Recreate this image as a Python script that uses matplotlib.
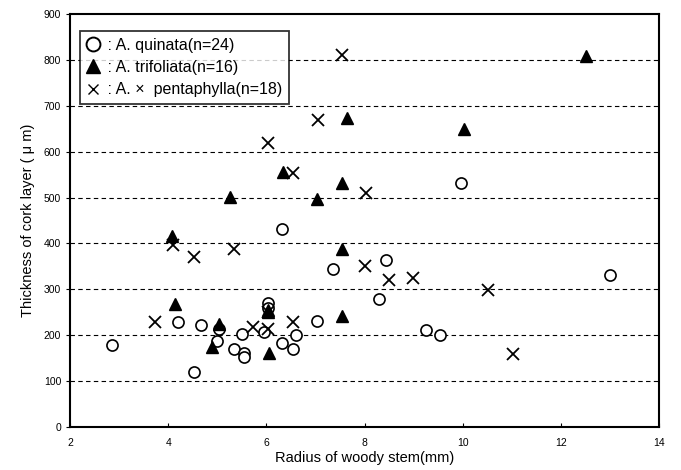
import matplotlib
matplotlib.use("Agg")
from matplotlib import pyplot as plt
from matplotlib.lines import Line2D

# A. quinata (circles)
quinata_x = [2.86, 4.19, 4.53, 4.67, 4.99, 5.04, 5.34, 5.50, 5.54, 5.54, 5.94, 6.04,
             6.04, 6.31, 6.32, 6.55, 6.60, 7.02, 7.36, 8.30, 8.44, 9.25, 9.54, 9.96, 13.0]
quinata_y = [178, 229, 120, 222, 188, 214, 170, 203, 162, 152, 206, 271,
             260, 182, 431, 171, 200, 232, 344, 280, 364, 211, 200, 531, 331]

# A. trifoliata (filled triangles)
trifoliata_x = [4.07, 4.14, 4.89, 5.04, 5.26, 6.04, 6.04, 6.05, 6.34, 7.02, 7.53,
                7.53, 7.53, 7.63, 10.02, 12.51]
trifoliata_y = [416, 268, 175, 224, 501, 255, 250, 162, 556, 498, 532,
                389, 242, 673, 649, 808]

# A. x pentaphylla (crosses)
penta_x = [3.73, 4.10, 4.53, 5.33, 5.73, 6.04, 6.04, 6.55, 7.53, 7.04, 8.03,
           8.01, 8.50, 8.99, 10.52, 11.03, 6.03, 6.54]
penta_y = [228, 397, 370, 389, 219, 251, 213, 229, 811, 670, 511,
           351, 320, 324, 299, 160, 619, 553]

x_ticks = [2, 4, 6, 8, 10, 12, 14]
y_ticks = [0, 100, 200, 300, 400, 500, 600, 700, 800, 900]

plt.rcParams["font.family"] = ["Liberation Sans", "DejaVu Sans"]

fig = plt.figure(figsize=(6.81, 4.70), dpi=100)
ax = fig.add_axes([0.103, 0.0915, 0.865, 0.8785])

# 横向虚线网格
for v in y_ticks[1:-1]:
    ax.axhline(v, color="black", linestyle=(0, (4, 3)), linewidth=0.8, zorder=1)

ax.plot(quinata_x, quinata_y, linestyle="none", marker="o", markersize=8,
        markerfacecolor="white", markeredgecolor="black", markeredgewidth=1.2, zorder=3)
ax.plot(trifoliata_x, trifoliata_y, linestyle="none", marker="^", markersize=9,
        color="black", zorder=3)
ax.plot(penta_x, penta_y, linestyle="none", marker="x", markersize=8.5,
        color="black", markeredgewidth=1.3, zorder=3)

ax.set_xlim(2, 14)
ax.set_ylim(0, 900)
ax.set_xticks(x_ticks)
ax.set_yticks(y_ticks)
ax.tick_params(axis="x", direction="in", length=3, labelsize=7.5, pad=8)
ax.tick_params(axis="y", direction="out", length=3, labelsize=7.5)
for s in ax.spines.values():
    s.set_linewidth(1.5)

ax.set_xlabel("Radius of woody stem(mm)", fontsize=10.5, labelpad=2)
ax.set_ylabel("Thickness of cork layer ( \u03bc m)", fontsize=10.5, labelpad=6)

handles = [
    Line2D([], [], linestyle="none", marker="o", markersize=10, markerfacecolor="white",
           markeredgecolor="black", markeredgewidth=1.4),
    Line2D([], [], linestyle="none", marker="^", markersize=10.5, color="black"),
    Line2D([], [], linestyle="none", marker="x", markersize=7, color="black",
           markeredgewidth=1.0),
]
labels = [" : A. quinata(n=24)", " : A. trifoliata(n=16)", " : A. \u00d7  pentaphylla(n=18)"]
leg = ax.legend(handles, labels, loc="upper left", bbox_to_anchor=(0.016, 0.96),
                fontsize=11.5, frameon=True, fancybox=False, handlelength=0.8,
                handletextpad=0.2, borderpad=0.45, labelspacing=0.45, borderaxespad=0)
leg.get_frame().set_edgecolor("black")
leg.get_frame().set_linewidth(1.3)

plt.savefig("out.png", dpi=100)
plt.close()
